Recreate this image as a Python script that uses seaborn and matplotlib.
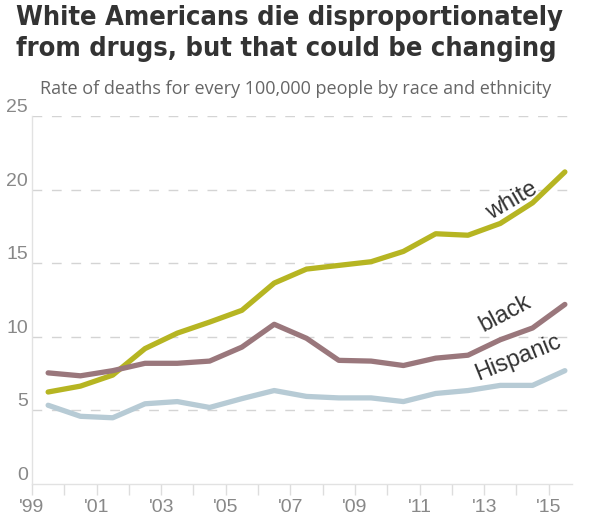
import matplotlib
matplotlib.use('Agg')
from matplotlib import pyplot as plt
import matplotlib.ticker as ticker
import seaborn as sns
import pandas as pd

years = list(range(1999, 2016))
white = [6.25, 6.65, 7.4, 9.2, 10.25, 11.0, 11.8, 13.65, 14.6, 14.85, 15.1, 15.8, 17.0, 16.9, 17.7, 19.1, 21.2]
black = [7.55, 7.35, 7.7, 8.2, 8.2, 8.35, 9.3, 10.85, 9.9, 8.4, 8.35, 8.05, 8.55, 8.75, 9.8, 10.6, 12.2]
hispanic = [5.35, 4.6, 4.5, 5.45, 5.6, 5.2, 5.8, 6.35, 5.95, 5.85, 5.85, 5.6, 6.15, 6.35, 6.7, 6.7, 7.7]
groups = ['white', 'black', 'Hispanic']
colors = ['#b6b522', '#9a777c', '#b7cbd5']
y_ticks = [0, 5, 10, 15, 20, 25]
x_labels = ["'99", "'01", "'03", "'05", "'07", "'09", "'11", "'13", "'15"]

df = pd.DataFrame({
    'year': [y + 0.5 for y in years] * 3,
    'rate': white + black + hispanic,
    'group': [g for g in groups for _ in years],
})

sns.set_style('white')
plt.rcParams['font.family'] = ['Liberation Sans', 'DejaVu Sans']

fig = plt.figure(figsize=(6, 5.18), dpi=100)
ax = fig.add_axes([0.0533, 0.0656, 0.9, 0.7105])

sns.lineplot(data=df, x='year', y='rate', hue='group', palette=dict(zip(groups, colors)),
             linewidth=3.8, legend=False, ax=ax)

ax.set_xlim(1999, 2015.72)
ax.set_ylim(0, 25)
ax.set_xlabel('')
ax.set_ylabel('')

ax.xaxis.set_major_locator(ticker.FixedLocator(range(1999, 2016, 2)))
ax.xaxis.set_minor_locator(ticker.FixedLocator(range(2000, 2016, 2)))
ax.set_xticklabels(x_labels)
ax.tick_params(axis='x', which='both', length=8, width=1, color='#dddddd',
               direction='out', bottom=True, labelsize=14, labelcolor='#888888', pad=3)

ax.set_yticks(y_ticks)
ax.tick_params(axis='y', length=0, labelsize=14, labelcolor='#888888', pad=3)
for lbl in ax.get_yticklabels():
    lbl.set_verticalalignment('bottom')

for y in y_ticks[1:]:
    ax.axhline(y, color='#d4d4d4', linewidth=1, dashes=(7, 7), zorder=0)

for side in ['top', 'right']:
    ax.spines[side].set_visible(False)
for side in ['left', 'bottom']:
    ax.spines[side].set_color('#e2e2e2')
    ax.spines[side].set_linewidth(1)

label_style = dict(fontsize=17, color='#333333', ha='center', va='center', rotation_mode='anchor')
ax.text(2013.85, 19.2, 'white', rotation=30, **label_style)
ax.text(2013.65, 11.6, 'black', rotation=28, **label_style)
ax.text(2014.05, 8.6, 'Hispanic', rotation=22, **label_style)

fig.text(0.027, 0.965, 'White Americans die disproportionately', fontsize=19.5, fontweight='bold',
         family='DejaVu Sans', fontstretch='condensed', color='#333333', va='center')
fig.text(0.027, 0.905, 'from drugs, but that could be changing', fontsize=19.5, fontweight='bold',
         family='DejaVu Sans', fontstretch='condensed', color='#333333', va='center')
fig.text(0.067, 0.828, 'Rate of deaths for every 100,000 people by race and ethnicity', fontsize=13,
         family=['Open Sans', 'DejaVu Sans'], color='#666666', va='center')

fig.savefig('out.png', dpi=100)
